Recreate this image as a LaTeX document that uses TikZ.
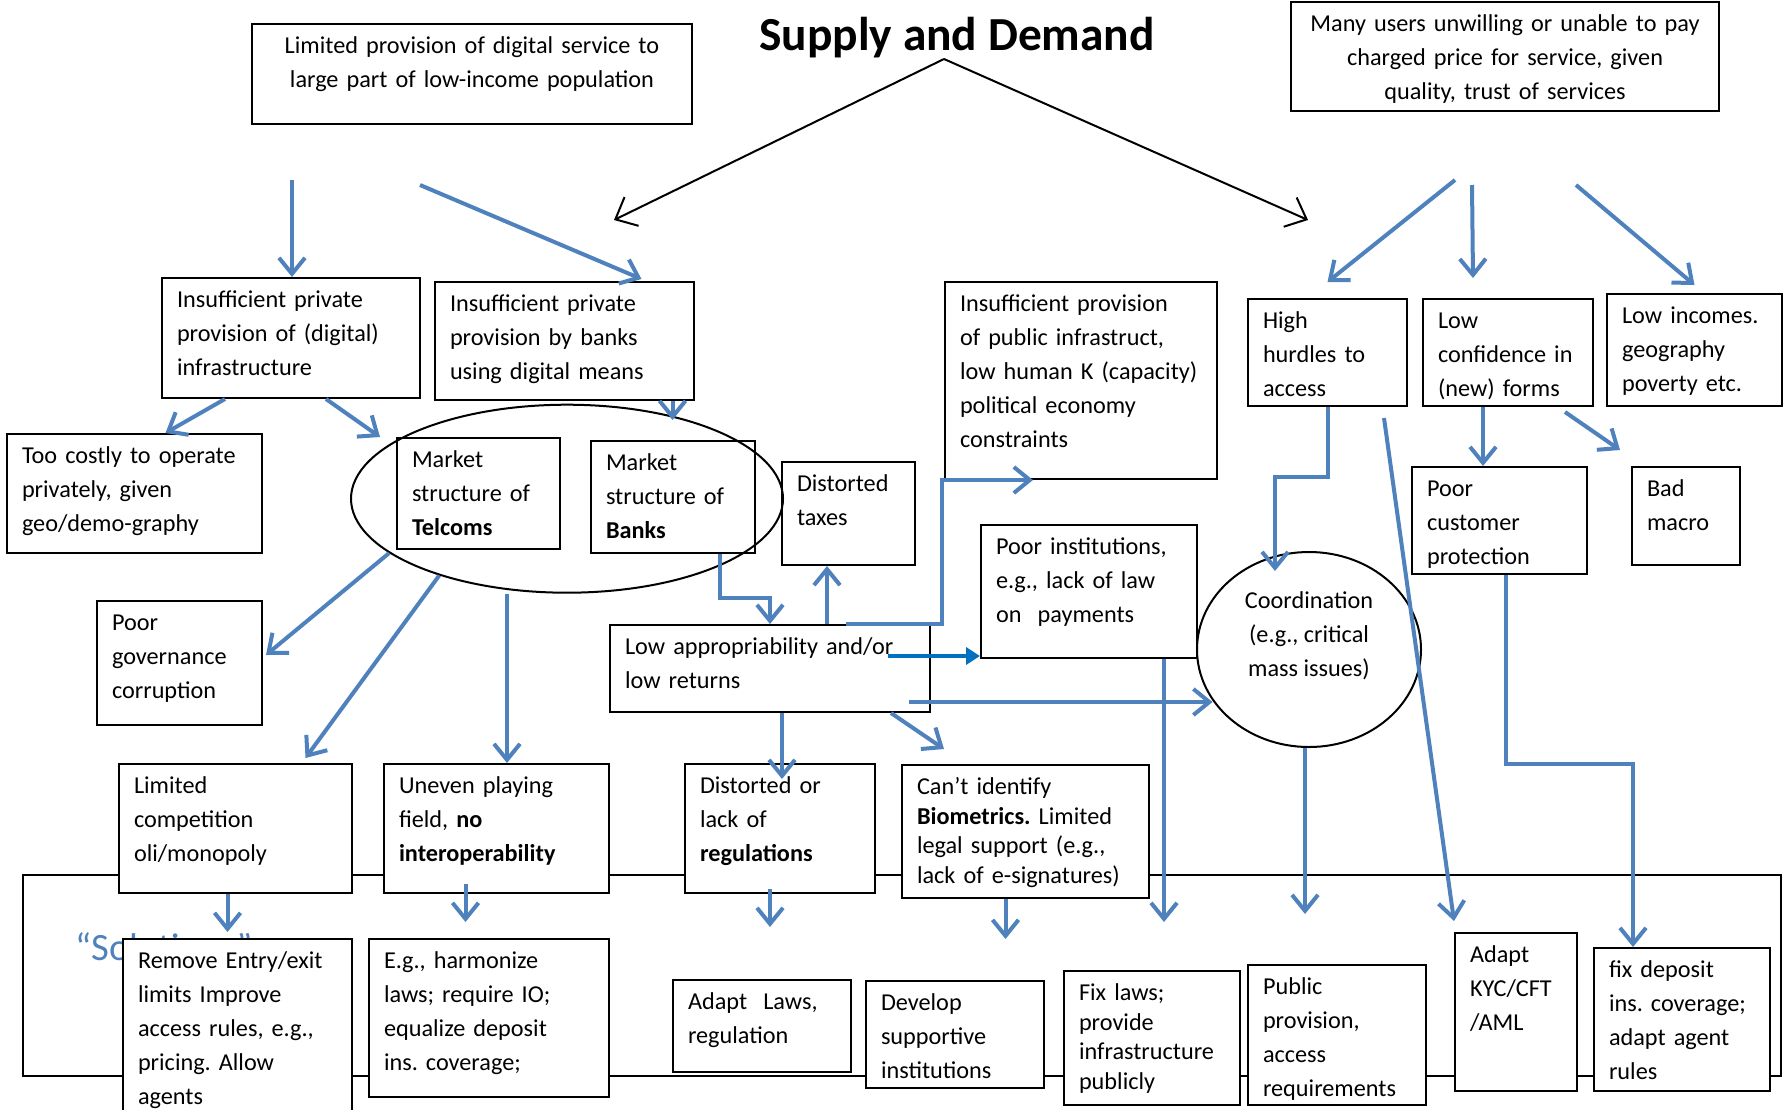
\documentclass[tikz,border=0pt]{standalone}
\usepackage{fontspec}
\setmainfont{Carlito}
\usetikzlibrary{arrows.meta,shapes.geometric}
\frenchspacing
\newlength{\pxl}
\setlength{\pxl}{0.02cm}
\definecolor{flowblue}{RGB}{79,129,189}
\definecolor{pushblue}{RGB}{0,112,192}
\def\bodyfont{\fontsize{13.8}{19.35}\selectfont}
\def\tightfont{\fontsize{13.8}{16.8}\selectfont}
\tikzset{
	cbox/.style 2 args={draw, fill=white, line width=2\pxl, anchor=north west, inner xsep=15\pxl, inner ysep=5\pxl, text width=#1\pxl, text height=24.5\pxl, text depth=#2\pxl, align=left, font=\bodyfont},
	oval/.style={draw, ellipse, line width=2\pxl, inner sep=0pt},
	flow/.style={draw=flowblue, line width=4\pxl, -{Straight Barb[length=0.32cm, width=0.52cm]}},
	push/.style={draw=pushblue, line width=4\pxl, -{Triangle[length=0.28cm, width=0.34cm]}},
	trend/.style={draw=black, line width=2\pxl, -{Straight Barb[length=0.36cm, width=0.64cm]}},
}

\begin{document}
\begin{tikzpicture}[x=0.02cm, y=-0.02cm]
			%%%%% START %%%%%
			\useasboundingbox (0,0) rectangle (1787,1109);
			\clip (0,0) rectangle (1787,1109);
			
			\draw[line width=2\pxl] (23,875) rectangle (1781,1076);
			\node[anchor=base west, inner sep=0pt, text=flowblue, font=\fontsize{22}{26}\selectfont] (sol) at (75,960) {“Solutions”};
			
			\node[font=\fontsize{27}{32}\selectfont\bfseries, anchor=base] (title) at (957,50) {Supply and Demand};
			
			\node[cbox={410}{65.5}, align=center] (lim) at (251,23) {Limited provision of digital service to\\large part of low-income population};
			\node[cbox={398}{74.5}, align=center] (pay) at (1290,1) {Many users unwilling or unable to pay\\charged price for service, given\\quality, trust of services};
			
			\node[cbox={228}{85.5}] (infra) at (161,277) {Insufficient private\\provision of (digital)\\infrastructure};
			\node[cbox={229}{83.5}] (banks) at (434,281) {Insufficient private\\provision by banks\\using digital means};
			\node[cbox={242}{162.5}] (pub) at (944,281) {Insufficient provision\\of public infrastruct,\\low human K (capacity)\\political economy\\constraints};
			\node[cbox={129}{72.5}] (high) at (1247,298) {High\\hurdles to\\access};
			\node[cbox={140}{72.5}] (conf) at (1422,298) {Low\\confidence in\\(new) forms};
			\node[cbox={145}{77.5}] (inc) at (1606,293) {Low incomes.\\geography\\poverty etc.};
			
			\node[cbox={225}{84.5}] (costly) at (6,433) {Too costly to operate\\privately, given\\geo/demo-graphy};
			\node[cbox={133}{76.5}] (tel) at (396,437) {Market\\structure of\\\textbf{Telcoms}};
			\node[cbox={134}{77.5}] (bnk) at (590,440) {Market\\structure of\\\textbf{Banks}};
			\node[cbox={103}{68.5}] (tax) at (781,461) {Distorted\\taxes};
			\node[cbox={145}{72.5}] (cust) at (1411,466) {Poor\\customer\\protection};
			\node[cbox={78}{63.5}] (macro) at (1631,466) {Bad\\macro};
			
			\node[cbox={135}{89.5}] (gov) at (96,600) {Poor\\governance\\corruption};
			\node[cbox={290}{52.5}] (app) at (609,624) {Low appropriability and/or\\low returns};
			\node[cbox={186}{98.5}] (inst) at (980,524) {Poor institutions,\\e.g., lack of law\\on\ \ payments};
			
			\node[cbox={203}{94.5}] (comp) at (118,763) {Limited\\competition\\oli/monopoly};
			\node[cbox={195}{94.5}] (even) at (383,763) {Uneven playing\\field, \textbf{no}\\\textbf{interoperability}};
			\node[cbox={160}{94.5}] (reg) at (684,763) {Distorted or\\lack of\\\textbf{regulations}};
			\node[cbox={217}{98.5}, font=\tightfont] (bio) at (901,764) {Can’t identify\\\textbf{Biometrics.} Limited\\legal support (e.g.,\\lack of e-signatures)};
			
			\node[cbox={199}{165.5}] (rem) at (122,938) {Remove Entry/exit\\limits Improve\\access rules, e.g.,\\pricing. Allow\\agents};
			\node[cbox={210}{123.5}] (eg) at (368,938) {E.g., harmonize\\laws; require IO;\\equalize deposit\\ins. coverage;};
			\node[cbox={148}{57.5}] (adlaw) at (672,979) {Adapt\ \ Laws,\\regulation};
			\node[cbox={148}{72.5}] (dev) at (865,980) {Develop\\supportive\\institutions};
			\node[cbox={146}{99.5}, font=\tightfont] (fix) at (1063,970) {Fix laws;\\provide\\infrastructure\\publicly};
			\node[cbox={148}{105.5}] (pubp) at (1247,964) {Public\\provision,\\access\\requirements};
			\node[cbox={92}{123.5}] (kyc) at (1454,932) {Adapt\\KYC/CFT\\/AML};
			\node[cbox={146}{108.5}] (dep) at (1593,947) {fix deposit\\ins. coverage;\\adapt agent\\rules};
			
			\node[oval, minimum width=432\pxl, minimum height=188\pxl] (mkt) at (567,498.7) {};
			\node[oval, minimum width=224\pxl, minimum height=195\pxl] (coord) at (1309,649.5) {};
			\node[font=\bodyfont, align=center] (coordtext) at (1309,636) {Coordination\\(e.g., critical\\mass issues)};
			
			\coordinate (apex) at (944,59);
			\coordinate (suptip) at (614,220);
			\coordinate (demtip) at (1308,220);
			\draw[trend] (apex) -- (suptip);
			\draw[trend] (apex) -- (demtip);
			
			\coordinate (s1) at (292,180);
			\coordinate (s2) at (420,185);
			\draw[flow] (s1) -- (s1 |- infra.north);
			\draw[flow] (s2) -- ([xshift=77\pxl, yshift=2\pxl]banks.north);
			
			\coordinate (d1) at (1455,180);
			\coordinate (d2) at (1472,185);
			\coordinate (d3) at (1576,185);
			\draw[flow] (d1) -- ([yshift=16\pxl]high.north);
			\draw[flow] (d2) -- ([xshift=-35\pxl, yshift=20\pxl]conf.north);
			\draw[flow] (d3) -- ([yshift=8\pxl]inc.north);
			
			\draw[flow] ([xshift=-66\pxl]infra.south) -- ([xshift=31\pxl]costly.north);
			\draw[flow] ([xshift=35\pxl]infra.south) -- ([xshift=-16\pxl]tel.north west);
			\draw[flow] ([xshift=108\pxl]banks.south) -- ++(0,19);
			
			\draw[flow] (mkt.197) -- ([xshift=3\pxl, yshift=8\pxl]gov.east);
			\draw[flow] (mkt.211) -- ([xshift=70\pxl, yshift=5\pxl]comp.north);
			\coordinate (m8) at ([xshift=-60\pxl]mkt.south);
			\draw[flow] (m8) -- (m8 |- even.north);
			
			\draw[flow] ([xshift=47\pxl]bnk.south) -- ++(0,44) -| (app.north);
			\coordinate (t0) at ([xshift=57\pxl]app.north);
			\draw[flow] (t0) -- (t0 |- tax.south);
			\draw[flow] ([xshift=76\pxl]app.north) -- ++(96,0) |- ([xshift=89\pxl]pub.south west);
			\coordinate (d0) at (888,656);
			\draw[push] (d0) -- (d0 -| inst.west);
			\coordinate (e0) at (909,702);
			\draw[flow] (e0) -- (e0 -| coord.208);
			\draw[flow] ([xshift=12\pxl]app.south) -- ++(0,66);
			\draw[flow] ([xshift=-40\pxl]app.south east) -- ([xshift=43\pxl, yshift=15\pxl]bio.north west);
			
			\draw[flow] ([xshift=-34\pxl]inst.south east) -- ++(0,263);
			\draw[flow] ([xshift=-4\pxl]coord.south) -- ++(0,166);
			\draw[flow] (high.south) -- ++(0,70) -| ([xshift=-34\pxl, yshift=-20\pxl]coord.north);
			\draw[flow] ([xshift=-24\pxl, yshift=-11\pxl]high.south east) -- ([yshift=11\pxl]kyc.north west);
			\coordinate (c0) at ([xshift=-25\pxl]conf.south);
			\draw[flow] (c0) -- (c0 |- cust.north);
			\draw[flow] ([xshift=-29\pxl, yshift=-5\pxl]conf.south east) -- ([xshift=-11\pxl, yshift=16\pxl]macro.north west);
			\draw[flow] ([xshift=6\pxl]cust.south) -- ++(0,189) -| ([xshift=-49\pxl]dep.north);
			
			\draw[flow] ([xshift=-8\pxl]comp.south) -- ++(0,38);
			\draw[flow] ([xshift=-31\pxl, yshift=10\pxl]even.south) -- ++(0,38);
			\draw[flow] ([xshift=-10\pxl, yshift=5\pxl]reg.south) -- ++(0,38);
			\draw[flow] ([xshift=-20\pxl]bio.south) -- ++(0,40);
			
			%%%%% END %%%%%
\end{tikzpicture}
\end{document}
